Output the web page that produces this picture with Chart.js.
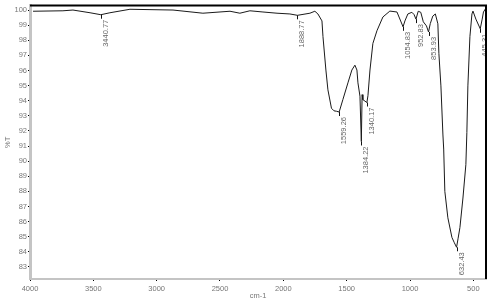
<!DOCTYPE html>
<html>
<head>
<meta charset="utf-8">
<script src="https://cdn.jsdelivr.net/npm/chart.js@4"></script>
<style>
  html, body { margin: 0; padding: 0; background: #fff; }
  #wrap { width: 487px; height: 301px; position: relative; }
</style>
</head>
<body>
<div id="wrap"><canvas id="irChart"></canvas></div>
<script>
// IR spectrum, wavenumber (cm-1) vs transmittance (%T)
const wavenumbers = [
  3976, 3740, 3661, 3526, 3440.77, 3369, 3211, 2871, 2635, 2421, 2343, 2264,
  2161, 2050, 1948, 1888.77, 1790, 1751, 1727, 1695, 1687, 1664, 1648, 1620,
  1600, 1580, 1559.26, 1530, 1490, 1459, 1435, 1419, 1411, 1395, 1384.22, 1378,
  1372, 1340.17, 1332, 1316, 1293, 1261, 1214, 1159, 1103, 1054.83, 1040, 1017,
  985, 968, 952.83, 935, 915, 895, 870, 853.93, 840, 820, 800, 780, 772, 756,
  740, 734, 725, 701, 669, 650, 632.43, 620, 606, 582, 559, 551, 543, 527, 511,
  503, 480, 445.31, 430, 420, 405
];
const transmittance = [
  99.92, 99.95, 100.0, 99.82, 99.69, 99.82, 100.05, 100.0, 99.79, 99.92, 99.79, 99.95,
  99.87, 99.79, 99.74, 99.65, 99.79, 99.92, 99.74, 99.28, 98.24, 96.03, 94.72, 93.5,
  93.33, 93.3, 93.25, 94.07, 95.18, 96.03, 96.35, 96.03, 95.18, 94.3, 91.3, 94.4,
  94.07, 93.88, 94.33, 96.03, 97.79, 98.63, 99.54, 99.93, 99.87, 98.89, 99.28, 99.74,
  99.85, 99.7, 99.4, 99.92, 99.85, 99.22, 98.95, 98.55, 99.1, 99.6, 99.74, 99.09, 97.13, 94.98,
  91.73, 90.8, 88.0, 86.25, 84.95, 84.6, 84.3, 84.9, 85.6, 87.56, 89.77, 91.9, 94.98, 98.24, 99.74,
  99.93, 99.4, 98.76, 99.4, 99.87, 100.07
];

// labelled peaks
const peakWavenumbers = [3440.77, 1888.77, 1559.26, 1384.22, 1340.17, 1054.83, 952.83, 853.93, 632.43, 445.31];
const peakLabels = ["3440.77", "1888.77", "1559.26", "1384.22", "1340.17", "1054.83", "952.83", "853.93", "632.43", "445.31"];

// axis ticks
const yTicks = [83, 84, 85, 86, 87, 88, 89, 90, 91, 92, 93, 94, 95, 96, 97, 98, 99, 100];
const xTicks = [4000, 3500, 3000, 2500, 2000, 1500, 1000, 500];

const points = wavenumbers.map((w, i) => ({ x: w, y: transmittance[i] }));

const fontFamily = "'Liberation Sans', Arial, sans-serif";

/** Peak labels plugin */
const peakLabelPlugin = {
  id: "peakLabels",
  afterDatasetsDraw(chart) {
    const ctx = chart.ctx;
    const xs = chart.scales.x;
    const ys = chart.scales.y;
    ctx.save();
    ctx.font = "7.5px " + fontFamily;
    ctx.fillStyle = "#666";
    ctx.strokeStyle = "#111";
    ctx.lineWidth = 1;
    peakWavenumbers.forEach((w, i) => {
      const idx = wavenumbers.indexOf(w);
      const px = Math.round(xs.getPixelForValue(w)) + 0.5;
      const py = ys.getPixelForValue(transmittance[idx]);
      // little tick under the peak
      ctx.beginPath();
      ctx.moveTo(px, py);
      ctx.lineTo(px, py + 4);
      ctx.stroke();
      // rotated label, reading bottom to top
      ctx.save();
      ctx.translate(px + 4, py + 5);
      ctx.rotate(-Math.PI / 2);
      ctx.textAlign = "right";
      ctx.textBaseline = "middle";
      ctx.fillText(peakLabels[i], 0, 0);
      ctx.restore();
    });
    ctx.restore();
  },
};

/** Frame plugin: black top and right border */
const framePlugin = {
  id: "frame",
  afterDraw(chart) {
    const { ctx, chartArea } = chart;
    ctx.save();
    ctx.strokeStyle = "#000";
    ctx.lineWidth = 2;
    ctx.beginPath();
    ctx.moveTo(chartArea.left, chartArea.top);
    ctx.lineTo(chartArea.right, chartArea.top);
    ctx.lineTo(chartArea.right, chartArea.bottom);
    ctx.stroke();
    ctx.restore();
  },
};

const tickFont = { family: fontFamily, size: 7.5 };

new Chart(document.getElementById("irChart"), {
  type: "line",
  data: {
    datasets: [
      {
        data: points,
        borderColor: "#1a1a1a",
        borderWidth: 1,
        pointRadius: 0,
        tension: 0,
        fill: false,
      },
    ],
  },
  options: {
    responsive: true,
    maintainAspectRatio: false,
    animation: false,
    layout: { padding: { top: 1, right: 1, left: 0, bottom: 0 } },
    plugins: {
      legend: { display: false },
      tooltip: { enabled: false },
    },
    scales: {
      x: {
        type: "linear",
        reverse: true,
        min: 400,
        max: 4000,
        afterFit: (scale) => { scale.height = 22; },
        afterBuildTicks: (axis) => { axis.ticks = xTicks.map((v) => ({ value: v })); },
        border: { color: "#c4c4c4", width: 2 },
        grid: { drawOnChartArea: false, color: "#000", tickLength: 2 },
        ticks: {
          font: tickFont,
          color: "#777",
          padding: 3,
          maxRotation: 0,
          autoSkip: false,
          callback: (value) => String(value),
        },
        title: { display: true, text: "cm-1", font: tickFont, color: "#777", padding: { top: 0, bottom: 1 } },
      },
      y: {
        min: 82.2,
        max: 100.3,
        afterFit: (scale) => { scale.width = 30; },
        afterBuildTicks: (axis) => { axis.ticks = yTicks.map((v) => ({ value: v })); },
        border: { color: "#c4c4c4", width: 3 },
        grid: { drawOnChartArea: false, color: "#000", tickLength: 2 },
        ticks: {
          font: tickFont,
          color: "#777",
          padding: 1,
          autoSkip: false,
          callback: (value) => String(value),
        },
        title: { display: true, text: "%T", font: tickFont, color: "#777", padding: { top: 3, bottom: 0 } },
      },
    },
  },
  plugins: [peakLabelPlugin, framePlugin],
});
</script>
</body>
</html>
